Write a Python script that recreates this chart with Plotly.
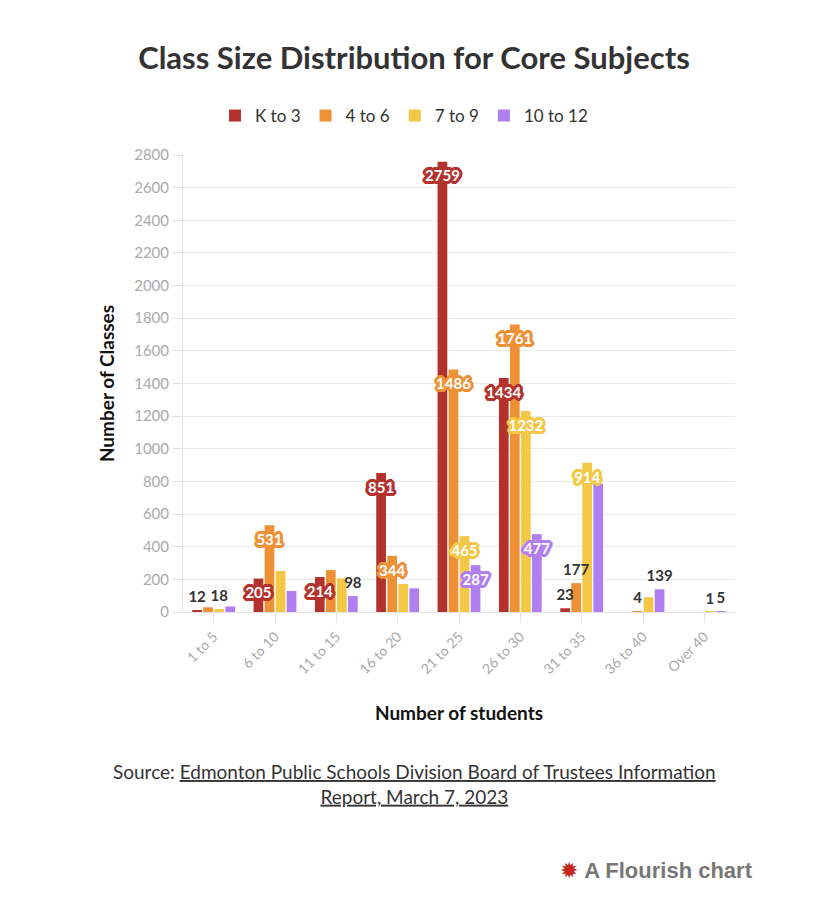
import plotly.graph_objects as go

categories = ["1 to 5", "6 to 10", "11 to 15", "16 to 20", "21 to 25",
              "26 to 30", "31 to 35", "36 to 40", "Over 40"]

series_names = ["K to 3", "4 to 6", "7 to 9", "10 to 12"]
k_to_3 = [12, 205, 214, 851, 2759, 1434, 23, 0, 0]
g4_to_6 = [29, 531, 257, 344, 1486, 1761, 177, 4, 0]
g7_to_9 = [18, 251, 206, 172, 465, 1232, 914, 90, 1]
g10_to_12 = [34, 129, 98, 145, 287, 477, 785, 139, 5]

# which value labels are visible in the original (others hidden by overlap)
shown_k_to_3 = [1, 1, 1, 1, 1, 1, 1, 0, 0]
shown_4_to_6 = [0, 1, 0, 1, 1, 1, 1, 1, 0]
shown_7_to_9 = [1, 0, 0, 0, 1, 1, 1, 0, 1]
shown_10_to_12 = [0, 0, 1, 0, 1, 1, 0, 1, 1]

y_ticks = list(range(0, 2801, 200))

colors = ["#b3322e", "#ee9136", "#f4c744", "#b17ff0"]
values = [k_to_3, g4_to_6, g7_to_9, g10_to_12]
shown = [shown_k_to_3, shown_4_to_6, shown_7_to_9, shown_10_to_12]

INSIDE_MIN = 190
FONT = "Lato"
BARGAP = 0.28


def halo(c, r=3):
    parts = []
    for dx in range(-r, r + 1):
        for dy in range(-r, r + 1):
            if dx * dx + dy * dy <= r * r + 1 and (dx or dy):
                parts.append(f"{dx}px {dy}px 0 {c}")
    return ", ".join(parts)


fig = go.Figure()
for i, (name, vals, col) in enumerate(zip(series_names, values, colors)):
    fig.add_trace(go.Bar(
        name=name, x=categories, y=vals, marker_color=col,
        marker_line_width=0, offsetgroup=str(i),
        hovertemplate="%{x}: %{y}<extra>" + name + "</extra>",
    ))

# value labels drawn on top of all bars, aligned to the same groups
for i, (name, vals, shw, col) in enumerate(zip(series_names, values, shown, colors)):
    ins_y = [v if (s and v >= INSIDE_MIN) else None for v, s in zip(vals, shw)]
    out_y = [v if (s and v < INSIDE_MIN) else None for v, s in zip(vals, shw)]
    fig.add_trace(go.Scatter(
        x=categories, y=ins_y, mode="markers+text", offsetgroup=str(i),
        marker=dict(size=12, color="rgba(0,0,0,0)"),
        text=[str(v) if v is not None else "" for v in ins_y],
        textposition="bottom center", showlegend=False, hoverinfo="skip",
        cliponaxis=False,
        textfont=dict(family=FONT, size=15, color="white", weight="bold",
                      shadow=halo(col)),
    ))
    fig.add_trace(go.Scatter(
        x=categories, y=out_y, mode="markers+text", offsetgroup=str(i),
        marker=dict(size=5, color="rgba(0,0,0,0)"),
        text=[str(v) if v is not None else "" for v in out_y],
        textposition="top center", showlegend=False, hoverinfo="skip",
        cliponaxis=False,
        textfont=dict(family=FONT, size=15, color="#333333", weight="bold"),
    ))

fig.update_layout(
    width=828, height=916,
    margin=dict(l=183, r=93, t=155, b=304),
    paper_bgcolor="white", plot_bgcolor="white",
    barmode="group", bargap=BARGAP, bargroupgap=0.12,
    scattermode="group", scattergap=BARGAP,
    font=dict(family=FONT, color="#333333"),
    title=dict(text="<b>Class Size Distribution for Core Subjects</b>",
               x=0.5, xanchor="center", y=1 - 58 / 916, yanchor="middle",
               font=dict(family=FONT, size=31, color="#333333")),
    legend=dict(orientation="h", x=404 / 828, xanchor="center",
                xref="container", yref="container",
                y=1 - 98 / 916, yanchor="top",
                font=dict(family=FONT, size=17, color="#333333"),
                itemwidth=30, traceorder="normal"),
    xaxis=dict(
        showline=True, linecolor="#e3e3e3", linewidth=1,
        ticks="outside", ticklen=10, tickcolor="#e3e3e3",
        tickangle=-45, tickfont=dict(family=FONT, size=14, color="#aaaaaa"),
        title=dict(text="<b>Number of students</b>",
                   font=dict(family=FONT, size=19, color="#111111"),
                   standoff=30),
    ),
    yaxis=dict(
        range=[0, 2800], tickvals=y_ticks,
        showline=True, linecolor="#e3e3e3", linewidth=1,
        ticks="outside", ticklen=10, tickcolor="#e3e3e3",
        showgrid=True, gridcolor="#ebebeb", zeroline=False,
        tickfont=dict(family=FONT, size=15, color="#aaaaaa"),
        title=dict(text="<b>Number of Classes</b>",
                   font=dict(family=FONT, size=19, color="#111111"),
                   standoff=14),
    ),
)

u = "text-decoration:underline"
fig.add_annotation(
    xref="paper", yref="paper", x=(414 - 183) / 552, y=-(784 - 612) / 457,
    xanchor="center", yanchor="middle", showarrow=False,
    text=(f"Source: <span style='{u}'>Edmonton Public Schools Division Board of Trustees Information</span>"
          f"<br><span style='{u}'>Report, March 7, 2023</span>"),
    font=dict(family=FONT, size=19, color="#333333"), align="center",
)
fig.add_annotation(
    xref="paper", yref="paper", x=(755 - 183) / 552, y=-(870 - 612) / 457,
    xanchor="right", yanchor="middle", showarrow=False,
    text="<span style='color:#c0281e'>✹</span> <b>A Flourish chart</b>",
    font=dict(family="Liberation Sans", size=22, color="#777777"),
)

fig.write_html("out.html", config={"displayModeBar": False},
               post_script="document.body.style.margin='0';")
